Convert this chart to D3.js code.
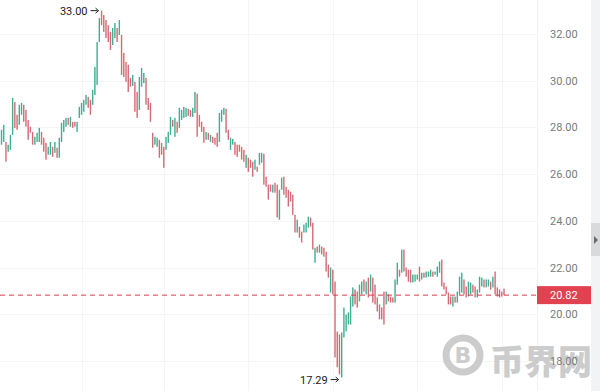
<!DOCTYPE html>
<html>
<head>
<meta charset="utf-8">
<script src="https://cdn.jsdelivr.net/npm/d3@7"></script>
<style>
  html, body { margin: 0; padding: 0; background: #fff; }
  svg { display: block; }
</style>
</head>
<body>
<svg></svg>
<script>
const WIDTH = 600;
const HEIGHT = 391;
const PLOT_RIGHT = 537;
const AXIS_RIGHT = 591;

// candle opens / closes
const opens = [
  27.26, 27.38, 27.38, 26.96, 27.04, 27.68, 29.09, 28.54, 28.11, 28.54,
  28.97, 28.75, 28.32, 28.03, 27.81, 27.26, 27.38, 27.38, 27.81, 27.56,
  27.34, 26.83, 26.83, 27.17, 26.91, 27.13, 26.70, 27.38, 27.81, 28.03,
  28.41, 28.03, 28.24, 28.24, 27.81, 28.41, 28.54, 28.67, 28.97, 29.31,
  29.18, 28.97, 29.39, 29.82, 31.66, 33.00, 32.81, 32.60, 32.38, 32.09,
  31.53, 31.83, 32.26, 31.96, 31.96, 31.19, 30.80, 30.68, 30.12, 29.78,
  29.95, 29.52, 28.75, 29.74, 29.90, 30.12, 29.26, 29.05, 27.77, 27.26,
  27.17, 27.47, 27.34, 27.17, 27.04, 27.34, 27.68, 28.32, 27.60, 28.24,
  27.98, 28.32, 28.41, 28.45, 28.80, 28.75, 28.45, 28.62, 29.45, 28.54,
  28.24, 28.03, 27.47, 27.77, 27.38, 27.60, 27.56, 27.77, 27.38, 28.24,
  28.54, 28.80, 27.90, 27.04, 27.26, 27.38, 27.26, 27.26, 27.17, 27.04,
  26.27, 26.70, 26.62, 26.53, 26.19, 26.32, 26.40, 26.49, 26.87, 25.89,
  25.55, 25.55, 25.21, 25.63, 25.55, 24.05, 25.33, 25.89, 25.46, 25.33,
  25.25, 25.12, 24.26, 23.50, 23.75, 23.54, 23.50, 23.50, 23.71, 24.14,
  23.92, 22.21, 22.90, 22.64, 22.90, 22.85, 22.68, 22.13, 20.93, 21.91,
  21.40, 19.26, 19.14, 17.29, 19.01, 19.27, 19.56, 19.56, 20.33, 21.06,
  20.97, 20.55, 20.85, 21.49, 20.85, 21.57, 20.97, 21.57, 21.27, 20.72,
  20.42, 20.29, 20.97, 20.42, 20.85, 20.76, 20.72, 20.50, 21.27, 21.91,
  21.78, 22.77, 22.00, 21.91, 21.91, 21.36, 21.40, 21.49, 22.04, 21.49,
  21.78, 21.57, 21.61, 21.61, 21.83, 21.70, 21.61, 21.78, 22.34, 21.36,
  21.19, 20.93, 20.76, 20.33, 20.76, 20.50, 20.85, 20.93, 21.49, 21.19,
  20.76, 20.85, 21.27, 21.19, 20.72, 20.93, 21.19, 21.49, 21.15, 21.19,
  21.40, 21.15, 21.83, 21.15, 21.06, 20.97, 21.10
];
const closes = [
  27.90, 28.11, 26.53, 27.26, 27.68, 29.26, 27.98, 27.90, 28.97, 29.05,
  28.24, 28.03, 27.47, 27.77, 27.26, 27.60, 27.77, 27.98, 27.26, 26.96,
  26.62, 27.17, 27.38, 26.74, 27.38, 26.70, 27.56, 28.20, 28.32, 28.41,
  28.11, 28.45, 27.98, 28.03, 28.24, 28.88, 29.05, 29.18, 29.39, 28.84,
  28.54, 29.61, 30.59, 31.66, 32.68, 32.38, 32.09, 31.83, 31.66, 31.32,
  32.26, 32.47, 31.66, 32.60, 30.25, 30.16, 29.95, 29.52, 29.74, 30.25,
  28.67, 28.41, 30.16, 30.55, 30.33, 28.97, 28.75, 28.24, 27.13, 27.60,
  27.56, 26.70, 26.83, 26.27, 27.60, 27.81, 28.45, 28.03, 28.41, 27.77,
  28.84, 28.75, 28.88, 28.84, 28.50, 28.45, 28.84, 29.52, 27.60, 28.03,
  27.81, 27.34, 27.81, 27.47, 27.68, 27.34, 27.26, 27.17, 28.62, 28.75,
  28.84, 27.77, 27.47, 27.56, 27.51, 26.83, 26.74, 26.96, 26.62, 26.53,
  26.83, 26.10, 26.27, 25.89, 26.62, 26.10, 26.91, 26.91, 25.55, 25.46,
  24.91, 25.25, 25.55, 25.21, 24.14, 25.33, 25.85, 25.12, 24.99, 24.61,
  24.82, 24.26, 23.50, 24.05, 23.28, 23.07, 23.84, 23.92, 24.18, 23.75,
  22.77, 22.85, 22.64, 22.98, 22.56, 22.47, 21.83, 21.57, 22.00, 20.85,
  18.15, 17.73, 17.43, 19.22, 20.29, 19.99, 20.08, 20.76, 21.15, 20.42,
  20.29, 21.27, 21.40, 20.97, 21.40, 20.72, 21.70, 20.50, 20.42, 20.12,
  19.78, 19.78, 19.56, 20.97, 20.55, 20.50, 20.50, 21.49, 22.21, 21.61,
  22.77, 21.83, 21.61, 21.40, 21.36, 21.70, 21.70, 21.70, 21.40, 21.78,
  21.57, 21.83, 21.83, 21.91, 21.61, 21.83, 22.04, 22.26, 21.19, 21.06,
  20.85, 20.42, 20.42, 20.76, 20.50, 20.97, 21.61, 21.78, 20.85, 20.72,
  21.40, 21.36, 20.93, 20.72, 21.06, 21.61, 21.57, 21.15, 21.49, 21.49,
  21.06, 21.61, 20.85, 20.76, 20.72, 20.76, 20.82
];

const priceTicks = [18, 20, 22, 24, 26, 28, 30, 32];
const timeGrid = [36, 73, 111, 149, 187, 225]; // candle index of vertical grid lines
const lastPrice = 20.82;

const candles = opens.map((o, i) => ({ i: i, o: o, c: closes[i] }));

var svg = d3.select("svg")
    .attr("width", WIDTH)
    .attr("height", HEIGHT);

var x = d3.scaleLinear().domain([0, candles.length - 1]).range([1.5, 504]);
var y = d3.scaleLinear().domain([18, 32]).range([361, 34]);

// grid
svg.append("g").selectAll("line")
    .data(priceTicks)
    .join("line")
    .attr("x1", 0).attr("x2", PLOT_RIGHT)
    .attr("y1", d => Math.round(y(d)) + 0.5).attr("y2", d => Math.round(y(d)) + 0.5)
    .attr("stroke", "#f5f5f5");

svg.append("g").selectAll("line")
    .data(timeGrid)
    .join("line")
    .attr("x1", d => Math.round(x(d)) + 0.5).attr("x2", d => Math.round(x(d)) + 0.5)
    .attr("y1", 0).attr("y2", HEIGHT)
    .attr("stroke", "#f5f5f5");

// axis boundary + right strip
svg.append("line")
    .attr("x1", PLOT_RIGHT + 0.5).attr("x2", PLOT_RIGHT + 0.5)
    .attr("y1", 0).attr("y2", HEIGHT)
    .attr("stroke", "#f0f0f0");

svg.append("rect")
    .attr("x", AXIS_RIGHT).attr("y", 0)
    .attr("width", WIDTH - AXIS_RIGHT).attr("height", HEIGHT)
    .attr("fill", "#f2f3f5");

svg.append("rect")
    .attr("x", AXIS_RIGHT).attr("y", 223)
    .attr("width", WIDTH - AXIS_RIGHT).attr("height", 33)
    .attr("fill", "#d9dadc");

svg.append("path")
    .attr("d", "M594,236 L598,240 L594,244 Z")
    .attr("fill", "#6a6a6a");

// watermark
var wm = svg.append("g").attr("opacity", 0.85);
wm.append("circle")
    .attr("cx", 463).attr("cy", 355).attr("r", 17)
    .attr("fill", "none")
    .attr("stroke", "#c4c4c4")
    .attr("stroke-width", 7);
wm.append("text")
    .attr("x", 463).attr("y", 363)
    .attr("text-anchor", "middle")
    .style("font-family", "DejaVu Sans")
    .style("font-weight", "bold")
    .style("font-size", "22px")
    .attr("fill", "#c4c4c4")
    .text("B");
wm.append("text")
    .attr("x", 490).attr("y", 374)
    .style("font-family", "Noto Sans CJK SC")
    .style("font-weight", "900")
    .style("font-size", "34px")
    .attr("fill", "#c4c4c4")
    .text("币界网");

// candles
svg.append("g").selectAll("rect")
    .data(candles)
    .join("rect")
    .attr("x", d => x(d.i) - 0.7)
    .attr("width", 1.4)
    .attr("y", d => y(Math.max(d.o, d.c)))
    .attr("height", d => Math.max(1, Math.abs(y(d.o) - y(d.c))))
    .attr("fill", d => d.c >= d.o ? "#3fae92" : "#d46a74");

// last price line
svg.append("line")
    .attr("x1", 0).attr("x2", PLOT_RIGHT)
    .attr("y1", y(lastPrice)).attr("y2", y(lastPrice))
    .attr("stroke", "#d93a48")
    .attr("stroke-width", 1)
    .attr("stroke-dasharray", "5,4");

// price axis labels
svg.append("g").selectAll("text")
    .data(priceTicks)
    .join("text")
    .attr("x", 550)
    .attr("y", d => y(d) + 4)
    .style("font-family", "Roboto")
    .style("font-size", "11px")
    .attr("fill", "#7a7a7a")
    .text(d => d.toFixed(2));

svg.append("rect")
    .attr("x", PLOT_RIGHT).attr("y", y(lastPrice) - 9)
    .attr("width", AXIS_RIGHT - PLOT_RIGHT).attr("height", 18)
    .attr("fill", "#e0434f");

svg.append("text")
    .attr("x", 550).attr("y", y(lastPrice) + 4)
    .style("font-family", "Roboto")
    .style("font-size", "11px")
    .attr("fill", "#fff")
    .text(lastPrice.toFixed(2));

// high / low markers
const hi = d3.greatest(candles, d => Math.max(d.o, d.c));
const lo = d3.least(candles, d => Math.min(d.o, d.c));
const hiVal = Math.max(hi.o, hi.c);
const loVal = Math.min(lo.o, lo.c);

function marker(cx, cy, value) {
    let g = svg.append("g");
    g.append("text")
        .attr("x", cx - 14).attr("y", cy + 4)
        .attr("text-anchor", "end")
        .style("font-family", "Roboto")
        .style("font-size", "11px")
        .attr("fill", "#222")
        .text(value.toFixed(2));
    g.append("line")
        .attr("x1", cx - 11).attr("x2", cx - 4)
        .attr("y1", cy).attr("y2", cy)
        .attr("stroke", "#222");
    g.append("path")
        .attr("d", `M${cx - 6},${cy - 2.5} L${cx - 3},${cy} L${cx - 6},${cy + 2.5}`)
        .attr("fill", "none")
        .attr("stroke", "#222");
}

marker(x(hi.i), y(hiVal), hiVal);
marker(x(lo.i), y(loVal) + 2, loVal);
</script>
</body>
</html>
